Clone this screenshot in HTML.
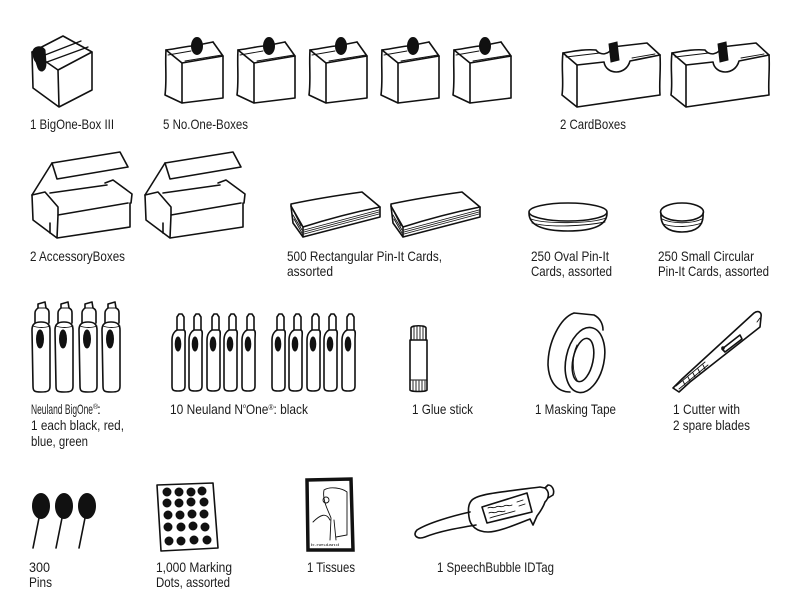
<!DOCTYPE html>
<html><head><meta charset="utf-8"><style>
html,body{margin:0;padding:0;background:#fff;}
svg{display:block;}
text{font-family:"Liberation Sans Narrow","Liberation Sans",sans-serif;font-size:14px;fill:#1c1c1c;}
.s{fill:none;stroke:#111;stroke-width:1.6;stroke-linejoin:round;stroke-linecap:round;}
.t{fill:none;stroke:#111;stroke-width:0.9;stroke-linecap:round;}
.f{fill:#111;stroke:#111;stroke-width:1;}
</style></head><body>
<svg width="800" height="612" viewBox="0 0 800 612" xmlns="http://www.w3.org/2000/svg">
<defs>
<g id="nobox">
<path class="s" d="M166,50 L182,63 L223,56 L213,42"/>
<path class="s" d="M166,50 C180,48 188,46 192,46 M203,44 L213,42"/>
<path class="t" d="M168,55 L191,51 M185,61 L222,55"/>
<path class="s" d="M166,50 C165,65 167,80 165,95 L182,103 M182,63 L182,103 L223,98 M223,56 L223,98"/>
<ellipse class="f" cx="197" cy="46" rx="5.5" ry="8.5"/>
</g>
<g id="cardbox">
<path class="s" d="M563,53 C575,51 585,49 596,50 C600,56 610,55 612,47 L647,43 L660,55"/>
<path class="s" d="M563,53 L577,65 L604,62 C606,75 626,76 630,61 L660,55"/>
<path class="t" d="M566,57 L600,53 M632,58 L655,54"/>
<path class="s" d="M563,53 C561,67 564,82 562,95 L577,107 M577,65 L577,107 L660,95 M660,55 C661,70 659,82 660,95"/>
<path class="f" d="M609,44 L617,42 L619,60 L611,62 Z"/>
</g>
<g id="accbox">
<path class="s" d="M52,163 L120,152 L128,167 L57,179 Z"/>
<path class="s" d="M52,163 L32,195 M50,193 L107,185"/>
<path class="s" d="M105,183 L113,180 L132,194 L131,203"/>
<path class="s" d="M32,195 L45,192 L58,207 L58,215 L128,203"/>
<path class="s" d="M32,195 L33,220 L57,238 M58,215 L57,238 L130,227 L130,203"/>
<path class="s" d="M50,223 L50,233"/>
</g>
<g id="stack">
<path class="s" d="M291,204 C310,200 340,195 362,192 L380,207 C355,212 325,220 303,227 L291,206 Z"/>
<path class="s" d="M291,206 L293,223 L303,237 L303,227 M303,237 L380,217 L380,207"/>
<path class="t" d="M304,230 L379,210 M304,232 L379,212 M304,234 L379,214 M293,210 L301,226 M293,215 L302,230 M294,219 L302,233"/>
</g>
<g id="big">
<path class="s" d="M35,323 L35,313 C35,310 37,309 38,308 L38,304 L45,302 L46,308 C48,309 49,310 49,313 L49,323"/>
<path class="t" d="M38,308 L46,308"/>
<path class="s" d="M32,330 C32,324 35,322 41,322 C47,322 50,324 50,330 L50,386 C50,391 48,392 41,392 C34,392 33,391 33,386 Z"/>
<path class="t" d="M33,326 C38,328 45,328 50,326"/>
<ellipse class="f" cx="40" cy="339" rx="3.5" ry="9"/>
</g>
<g id="small">
<path class="s" d="M177,330 L177,317 L179,314 L182,314 L184,317 L184,330"/>
<path class="s" d="M172,340 C172,334 175,331 177,330 L184,330 C186,331 185,334 185,340 L185,386 C185,390 183,391 178,391 C173,391 172,390 172,386 Z"/>
<ellipse class="f" cx="178" cy="344" rx="2.8" ry="7"/>
</g>
<g id="pin">
<ellipse class="f" cx="41" cy="506" rx="8.5" ry="12.5"/>
<path class="s" stroke-width="2.4" d="M39,518 L33,548"/>
</g>
</defs>

<!-- Row 1 -->
<path class="s" d="M32,52 L63,36 L92,52 L58,70 Z"/>
<path class="s" d="M32,52 L33,88 L59,107 L92,90 L92,52 M58,70 L59,107"/>
<path class="t" d="M45,55 L81,41 M47,62 L88,47" style="stroke-width:1.3"/>
<path class="f" d="M33,52 C33,46 42,45 45,50 L46,63 C46,72 40,73 38,68 L36,62 C34,60 33,57 33,52Z"/>

<use href="#nobox"/>
<use href="#nobox" x="72"/>
<use href="#nobox" x="144"/>
<use href="#nobox" x="216"/>
<use href="#nobox" x="288"/>

<use href="#cardbox"/>
<use href="#cardbox" x="109"/>

<text x="30" y="129" textLength="84" lengthAdjust="spacingAndGlyphs">1 BigOne-Box III</text>
<text x="163" y="129" textLength="85" lengthAdjust="spacingAndGlyphs">5 No.One-Boxes</text>
<text x="560" y="129" textLength="66" lengthAdjust="spacingAndGlyphs">2 CardBoxes</text>

<!-- Row 2 -->
<use href="#accbox"/>
<use href="#accbox" x="113"/>
<use href="#stack"/>
<use href="#stack" x="100"/>

<ellipse class="s" cx="568" cy="212" rx="39" ry="9"/>
<path class="s" d="M529,213 C529,224 540,231 568,231 C596,231 607,224 607,213"/>
<path class="t" d="M531,219 C545,224 590,224 606,218 M532,223 C550,228 585,226 605,222"/>
<ellipse class="s" cx="682" cy="212" rx="21.5" ry="9"/>
<path class="s" d="M661,213 C660,226 668,232 682,232 C696,232 704,226 703,213"/>
<path class="t" d="M662,219 C672,224 692,224 702,219 M663,224 C675,228 690,227 702,223"/>

<text x="30" y="261" textLength="95" lengthAdjust="spacingAndGlyphs">2 AccessoryBoxes</text>
<text x="287" y="261" textLength="155" lengthAdjust="spacingAndGlyphs">500 Rectangular Pin-It Cards,</text>
<text x="287" y="276" textLength="46" lengthAdjust="spacingAndGlyphs">assorted</text>
<text x="531" y="261" textLength="78" lengthAdjust="spacingAndGlyphs">250 Oval Pin-It</text>
<text x="531" y="276" textLength="81" lengthAdjust="spacingAndGlyphs">Cards, assorted</text>
<text x="658" y="261" textLength="96" lengthAdjust="spacingAndGlyphs">250 Small Circular</text>
<text x="658" y="276" textLength="111" lengthAdjust="spacingAndGlyphs">Pin-It Cards, assorted</text>

<!-- Row 3 -->
<use href="#big"/>
<use href="#big" x="23"/>
<use href="#big" x="47"/>
<use href="#big" x="70"/>

<use href="#small"/>
<use href="#small" x="17"/>
<use href="#small" x="35"/>
<use href="#small" x="52"/>
<use href="#small" x="70"/>
<use href="#small" x="100"/>
<use href="#small" x="117"/>
<use href="#small" x="135"/>
<use href="#small" x="152"/>
<use href="#small" x="170"/>

<!-- glue stick -->
<path class="s" d="M411,340 L411,328 C411,325 426,325 426,328 L426,340"/>
<path class="s" d="M410,340 L427,340 L427,390 C427,392 410,392 410,390 Z"/>
<path class="t" d="M414,327 L414,339 M417,326 L417,339 M420,326 L420,339 M423,327 L423,339 M413,381 L413,391 M416,381 L416,391 M419,381 L419,391 M422,381 L422,391 M425,381 L425,391 M410,380 L427,380"/>

<!-- masking tape -->
<path class="s" d="M574,313 C560,318 548,342 548,365 C549,383 558,392 570,392 M574,313 L594,315 C600,318 603,324 603,330"/>
<ellipse class="s" cx="585" cy="360" rx="19" ry="33" transform="rotate(12 585 360)"/>
<ellipse class="s" cx="583" cy="360" rx="10" ry="22" transform="rotate(12 583 360)"/>
<path class="t" d="M577,345 C572,355 572,372 577,380"/>

<!-- cutter -->
<path class="s" d="M673,388 L682,379 L754,313 C758,310 762,312 761,317 L760,327 L690,382 L679,392 Z"/>
<path class="s" d="M722,349 L740,335 L742,339 L725,352 Z"/>
<path class="t" d="M676,386 L705,362 M679,389 L708,365 M683,381 L685,385 M688,377 L690,381 M693,373 L695,377 M698,369 L700,373 M703,365 L705,369"/>
<circle class="f" cx="723" cy="348" r="1.3"/>
<path class="t" d="M757,322 L760,318"/>

<text x="31" y="414" textLength="62" lengthAdjust="spacingAndGlyphs">Neuland BigOne</text>
<text x="93" y="409" style="font-size:7px">®</text>
<text x="97" y="414">:</text>
<text x="31" y="430" textLength="93" lengthAdjust="spacingAndGlyphs">1 each black, red,</text>
<text x="31" y="446" textLength="57" lengthAdjust="spacingAndGlyphs">blue, green</text>
<text x="170" y="414" textLength="138" lengthAdjust="spacingAndGlyphs">10 Neuland N<tspan font-size="9" dy="-3">º</tspan><tspan dy="3">One</tspan><tspan font-size="8" dy="-4">®</tspan><tspan dy="4">: black</tspan></text>
<text x="412" y="414" textLength="61" lengthAdjust="spacingAndGlyphs">1 Glue stick</text>
<text x="535" y="414" textLength="81" lengthAdjust="spacingAndGlyphs">1 Masking Tape</text>
<text x="673" y="414" textLength="67" lengthAdjust="spacingAndGlyphs">1 Cutter with</text>
<text x="673" y="430" textLength="77" lengthAdjust="spacingAndGlyphs">2 spare blades</text>

<!-- Row 4 -->
<use href="#pin"/>
<use href="#pin" x="23"/>
<use href="#pin" x="46"/>

<path class="s" d="M157,485 L213,483 L218,548 L161,551 Z"/>
<g class="f">
<circle cx="167" cy="492" r="4"/><circle cx="179" cy="492" r="4"/><circle cx="191" cy="492" r="4"/><circle cx="202" cy="491" r="4"/>
<circle cx="167" cy="503" r="4"/><circle cx="179" cy="503" r="4"/><circle cx="191" cy="502" r="4"/><circle cx="204" cy="502" r="4"/>
<circle cx="168" cy="515" r="4"/><circle cx="180" cy="515" r="4"/><circle cx="192" cy="514" r="4"/><circle cx="204" cy="514" r="4"/>
<circle cx="168" cy="527" r="4"/><circle cx="181" cy="527" r="4"/><circle cx="193" cy="526" r="4"/><circle cx="205" cy="527" r="4"/>
<circle cx="169" cy="541" r="4"/><circle cx="181" cy="541" r="4"/><circle cx="194" cy="540" r="4"/><circle cx="207" cy="540" r="4"/>
</g>

<!-- tissues -->
<path d="M307,480 L351,479 L353,550 L308,550 Z" fill="none" stroke="#111" stroke-width="3.5"/>
<path class="t" d="M324,490 C330,486 342,488 347,492 L347,535 L336,537 M324,490 C322,500 328,510 331,518 L330,540 M330,520 C326,512 320,515 313,522 M334,520 L336,540"/>
<circle class="t" cx="326" cy="500" r="3"/>
<text x="311" y="546" style="font-size:4px" textLength="28" lengthAdjust="spacingAndGlyphs">b.neuland</text>

<!-- speech bubble tag -->
<path class="s" d="M472,500 C478,494 500,492 540,487 L545,488 C550,492 549,498 545,502 C543,508 540,512 537,516 L533,525 L530,519 C512,526 498,532 488,532 C477,532 470,526 469,517 C468,510 468,504 472,500 Z"/>
<path class="s" d="M545,488 L548,485 C552,485 555,490 553,495 L548,498"/>
<path class="s" d="M482,507 L527,493 L532,512 L487,523 Z"/>
<path class="t" d="M488,508 C491,506 493,509 496,507 C499,505 501,508 504,506 C507,504 509,507 512,505 M489,513 C492,511 494,514 497,512 C500,510 502,513 505,511 M490,518 C496,516 505,514 515,511 M517,502 L523,500 M519,506 L525,504"/>
<path class="s" d="M470,512 C452,516 428,523 417,530 C412,535 417,540 425,537 C440,531 458,528 476,525"/>

<text x="29" y="572" textLength="21" lengthAdjust="spacingAndGlyphs">300</text>
<text x="29" y="587" textLength="23" lengthAdjust="spacingAndGlyphs">Pins</text>
<text x="156" y="572" textLength="76" lengthAdjust="spacingAndGlyphs">1,000 Marking</text>
<text x="156" y="587" textLength="74" lengthAdjust="spacingAndGlyphs">Dots, assorted</text>
<text x="307" y="572" textLength="48" lengthAdjust="spacingAndGlyphs">1 Tissues</text>
<text x="437" y="572" textLength="117" lengthAdjust="spacingAndGlyphs">1 SpeechBubble IDTag</text>
</svg>
</body></html>
